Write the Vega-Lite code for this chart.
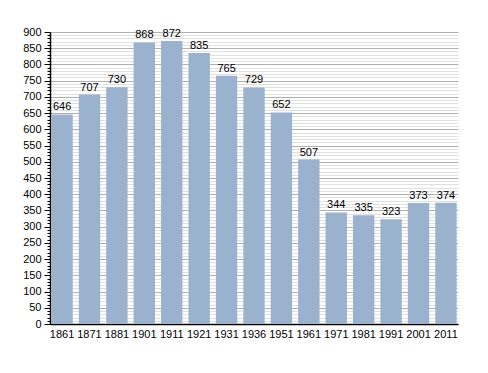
{
  "$schema": "https://vega.github.io/schema/vega-lite/v6.json",
  "width": 408,
  "height": 292,
  "autosize": {"type": "none"},
  "padding": {"left": 50, "top": 32, "right": 30, "bottom": 49},
  "background": "white",
  "config": {"view": {"stroke": null}, "font": "Liberation Sans"},
  "data": {"values": [
    {"year": "1861", "pop": 646},
    {"year": "1871", "pop": 707},
    {"year": "1881", "pop": 730},
    {"year": "1901", "pop": 868},
    {"year": "1911", "pop": 872},
    {"year": "1921", "pop": 835},
    {"year": "1931", "pop": 765},
    {"year": "1936", "pop": 729},
    {"year": "1951", "pop": 652},
    {"year": "1961", "pop": 507},
    {"year": "1971", "pop": 344},
    {"year": "1981", "pop": 335},
    {"year": "1991", "pop": 323},
    {"year": "2001", "pop": 373},
    {"year": "2011", "pop": 374}
  ]},
  "encoding": {
    "x": {"field": "year", "type": "ordinal", "sort": null,
      "scale": {"paddingInner": 0.22, "paddingOuter": 0.05},
      "axis": {"title": null, "labelAngle": 0, "ticks": false, "labelFontSize": 11, "labelColor": "#000", "domainColor": "#000", "domainWidth": 1.5, "labelPadding": 4}},
    "y": {"field": "pop", "type": "quantitative",
      "scale": {"domain": [0, 900], "nice": false},
      "axis": {"title": null,
        "values": [0,10,20,30,40,50,60,70,80,90,100,110,120,130,140,150,160,170,180,190,200,210,220,230,240,250,260,270,280,290,300,310,320,330,340,350,360,370,380,390,400,410,420,430,440,450,460,470,480,490,500,510,520,530,540,550,560,570,580,590,600,610,620,630,640,650,660,670,680,690,700,710,720,730,740,750,760,770,780,790,800,810,820,830,840,850,860,870,880,890,900],
        "labelExpr": "datum.value % 50 === 0 ? datum.label : ''",
        "labelFontSize": 11, "labelColor": "#000", "labelPadding": 3,
        "domainColor": "#000", "domainWidth": 1.5,
        "tickColor": "#000",
        "tickSize": {"condition": {"test": "datum.value % 50 === 0", "value": 6}, "value": 3},
        "grid": true,
        "gridColor": {"condition": {"test": "datum.value % 50 === 0", "value": "#b0b0b0"}, "value": "#e0e0e0"},
        "gridWidth": 1,
        "labelOverlap": false}}
  },
  "layer": [
    {"mark": {"type": "bar", "color": "#9ab2cd"}},
    {"mark": {"type": "text", "baseline": "bottom", "dy": -2, "fontSize": 11, "color": "#000"},
     "encoding": {"text": {"field": "pop", "type": "quantitative"}}}
  ]
}
